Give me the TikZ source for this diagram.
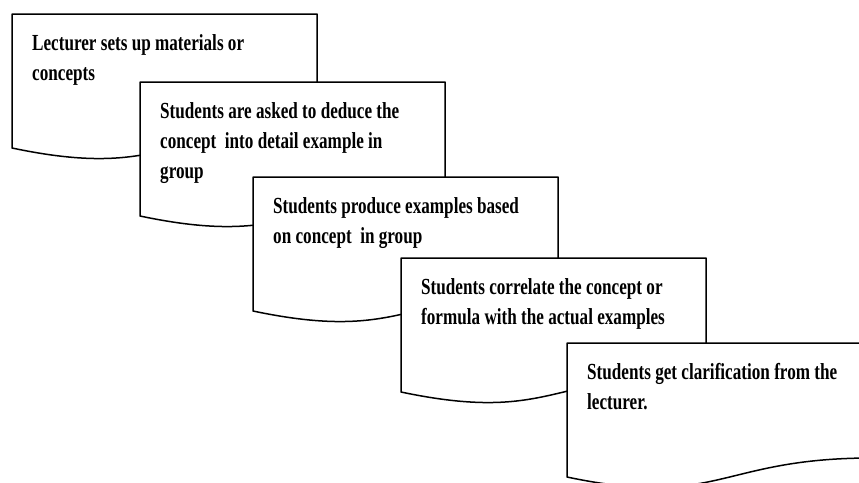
\documentclass[tikz,border=0pt]{standalone}
\usepackage{fontspec}
\setmainfont{Liberation Serif}[FakeStretch=0.745]

\begin{document}
\begin{tikzpicture}[x=1pt, y=-1pt,
  docbox/.style={draw, line width=1.5pt, fill=white, line join=round},
  doctext/.style={anchor=north west, align=left, inner sep=0pt,
    font=\bfseries\fontsize{23}{30}\selectfont}]
  \useasboundingbox (0,0) rectangle (859,482);
  \clip (0,0) rectangle (859,482);

  % Cascade of document shapes, each one over the previous
  \foreach \x/\y/\name/\txt in {
      12/14/setup/{Lecturer sets up materials or\\concepts},
      140/82/deduce/{Students are asked to deduce the\\concept\ \ into detail example in\\group},
      253/177/produce/{Students produce examples based\\on concept\ \ in group},
      401/258/correlate/{Students correlate the concept or\\formula with the actual examples},
      567/343/clarify/{Students get clarification from the\\lecturer.}} {
    \begin{scope}[shift={(\x,\y)}]
      % box with wavy bottom
      \draw[docbox] (0,0) -- (305,0) -- (305,115)
        .. controls (152,115) and (152,166) .. (0,134) -- cycle;
      \node[doctext] (\name) at (20,20) {\txt};
    \end{scope}
  }

\end{tikzpicture}
\end{document}
